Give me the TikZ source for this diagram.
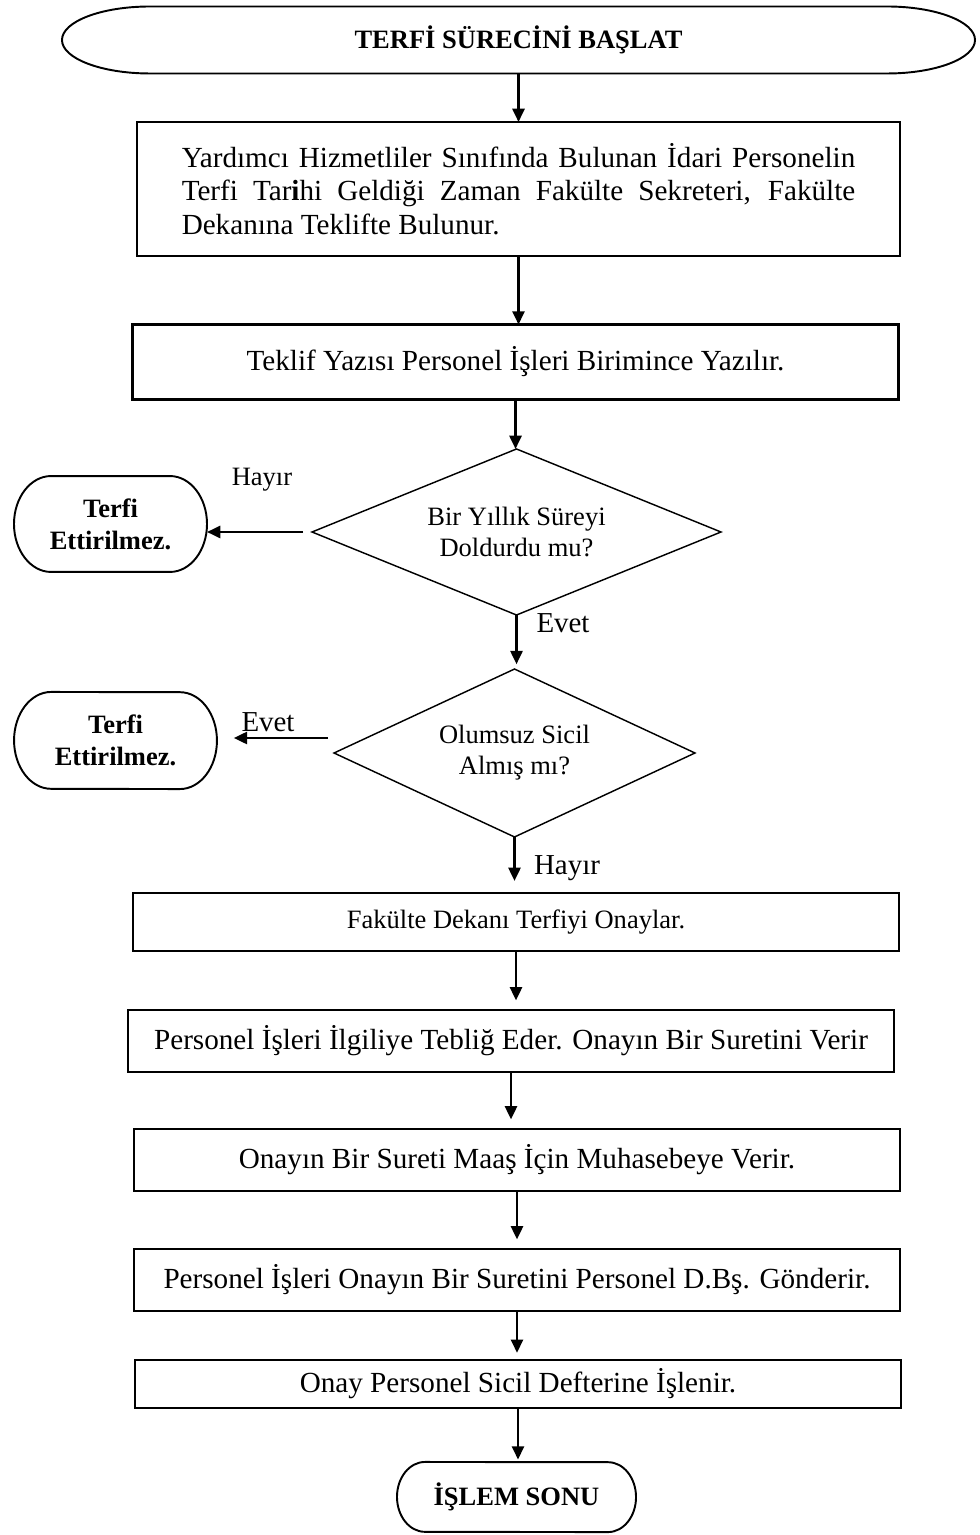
\documentclass[tikz,border=0pt]{standalone}
\usepackage{fontspec}
\setmainfont{Liberation Serif}
\usetikzlibrary{arrows.meta, shapes.geometric, positioning}

\tikzset{
  procbox/.style={draw, line width=0.9pt, inner sep=2pt, outer sep=0pt,
    minimum width=317.9pt, align=center, font=\fontsize{12.1}{13.8}\selectfont},
  decision/.style={diamond, draw, line width=0.6pt, inner sep=0pt, outer sep=0pt,
    align=center, font=\fontsize{11}{12.9}\selectfont},
  termnode/.style={inner sep=0pt, outer sep=0pt, align=center},
  termline/.style={line width=0.8pt},
  flowarrow/.style={-{Triangle[length=5.5pt,width=5pt]}, line width=1pt},
  answer/.style={inner sep=0pt, font=\fontsize{12}{13.8}\selectfont}
}

\begin{document}
\begin{tikzpicture}[x=0.415pt, y=-0.415pt]
  \useasboundingbox (0,0) rectangle (979,1535);

  % start terminal
  \node[termnode, minimum width=378.9pt, minimum height=27.8pt,
    font=\fontsize{11}{13}\selectfont\bfseries] (start) at (518.5,40) {TERFİ SÜRECİNİ BAŞLAT};
  \draw[termline] ([xshift=36.5pt]start.north west)
    arc[start angle=90, end angle=270, x radius=36.5pt, y radius=13.9pt]
    -- ([xshift=-36.5pt]start.south east)
    arc[start angle=-90, end angle=90, x radius=36.5pt, y radius=13.9pt] -- cycle;

  % process steps
  \node[procbox, minimum width=316.6pt, minimum height=55.6pt, text width=279.5pt, align=justify]
    (teklif) at (518.5,189) {Yardımcı Hizmetliler Sınıfında Bulunan İdari Personelin
    Terfi Tar\textbf{i}hi Geldiği Zaman Fakülte Sekreteri, Fakülte
    Dekanına Teklifte Bulunur.};
  \node[procbox, minimum height=31.1pt] (yazi) at (515.5,362) {Teklif Yazısı Personel İşleri Birimince Yazılır.};

  % decisions
  \node[decision, aspect=2.46, minimum width=169.7pt, minimum height=68.9pt]
    (sure) at (516.5,532) {Bir Yıllık Süreyi\\Doldurdu mu?};
  \node[decision, aspect=2.15, minimum width=149.8pt, minimum height=69.7pt]
    (sicil) at (514.5,753) {Olumsuz Sicil\\Almış mı?};

  % negative ends
  \node[termnode, minimum width=80.1pt, minimum height=39.8pt,
    font=\fontsize{11}{13.3}\selectfont\bfseries] (red1) at (110.5,524) {Terfi\\Ettirilmez.};
  \draw[termline] ([xshift=15.4pt]red1.north west)
    arc[start angle=90, end angle=270, x radius=15.4pt, y radius=19.9pt]
    -- ([xshift=-15.4pt]red1.south east)
    arc[start angle=-90, end angle=90, x radius=15.4pt, y radius=19.9pt] -- cycle;
  \node[termnode, minimum width=84.2pt, minimum height=40.3pt,
    font=\fontsize{11}{13.3}\selectfont\bfseries] (red2) at (115.5,740.5) {Terfi\\Ettirilmez.};
  \draw[termline] ([xshift=15.4pt]red2.north west)
    arc[start angle=90, end angle=270, x radius=15.4pt, y radius=20.1pt]
    -- ([xshift=-15.4pt]red2.south east)
    arc[start angle=-90, end angle=90, x radius=15.4pt, y radius=20.1pt] -- cycle;

  \node[procbox, font=\fontsize{11}{12.6}\selectfont, minimum height=24.1pt] (onay) at (516,922) {Fakülte Dekanı Terfiyi Onaylar.};
  \node[procbox, minimum height=25.7pt] (teblig) at (511,1041) {Personel İşleri İlgiliye Tebliğ Eder. Onayın Bir Suretini Verir};
  \node[procbox, minimum height=25.7pt] (maas) at (517,1160) {Onayın Bir Sureti Maaş İçin Muhasebeye Verir.};
  \node[procbox, minimum height=25.7pt] (daire) at (517,1280) {Personel İşleri Onayın Bir Suretini Personel D.Bş. Gönderir.};
  \node[procbox, minimum height=19.9pt] (sicildefter) at (518,1384) {Onay Personel Sicil Defterine İşlenir.};

  % end terminal
  \node[termnode, minimum width=99.2pt, minimum height=29.1pt,
    font=\fontsize{11}{13}\selectfont\bfseries] (son) at (516.5,1497) {İŞLEM SONU};
  \draw[termline] ([xshift=11.6pt]son.north west)
    arc[start angle=90, end angle=270, x radius=11.6pt, y radius=14.5pt]
    -- ([xshift=-11.6pt]son.south east)
    arc[start angle=-90, end angle=90, x radius=11.6pt, y radius=14.5pt] -- cycle;

  % answers
  \node[answer, font=\fontsize{11}{12.6}\selectfont] (hayir1) at (262,480) {Hayır};
  \node[answer] (evet1) at (563,623) {Evet};
  \node[answer] (evet2) at (268,722) {Evet};
  \node[answer] (hayir2) at (567,868) {Hayır};

  % arrows
  \coordinate (sicilout) at (328,738);
  \draw[flowarrow] (start.south) -- (start.south |- teklif.north);
  \draw[flowarrow] (teklif.south) -- (teklif.south |- yazi.north);
  \draw[flowarrow] (yazi.south) -- (yazi.south |- sure.north);
  \draw[flowarrow, shorten <=3.7pt] (sure.west) -- (sure.west -| red1.east);
  \draw[flowarrow, shorten >=2pt] (sure.south) -- (sure.south |- sicil.north);
  \draw[flowarrow, shorten >=7pt] (sicilout) -- (sicilout -| red2.east);
  \draw[flowarrow, shorten >=5pt] (sicil.south) -- (sicil.south |- onay.north);
  \draw[flowarrow, shorten >=4pt] (onay.south) -- (onay.south |- teblig.north);
  \draw[flowarrow, shorten >=4pt] (teblig.south) -- (teblig.south |- maas.north);
  \draw[flowarrow, shorten >=4pt] (maas.south) -- (maas.south |- daire.north);
  \draw[flowarrow, shorten >=3pt] (daire.south) -- (daire.south |- sicildefter.north);
  \draw[flowarrow, shorten >=1pt] (sicildefter.south) -- (sicildefter.south |- son.north);
\end{tikzpicture}
\end{document}
